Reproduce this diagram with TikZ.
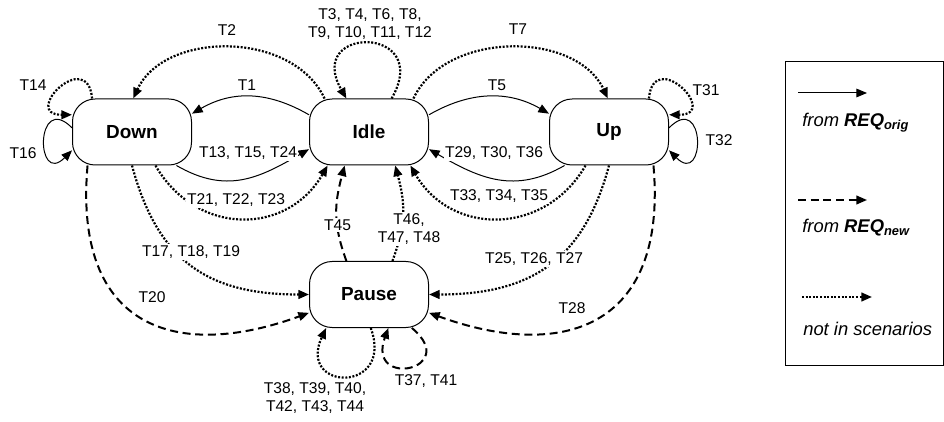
\documentclass[tikz,border=0pt]{standalone}
\usepackage{fontspec}
\setmainfont{Liberation Sans}
\usetikzlibrary{arrows.meta}

\begin{document}
\begin{tikzpicture}[x=0.75pt, y=0.75pt,
  state/.style={draw, line width=0.75pt, rounded corners=17pt,
    minimum width=89.25pt, minimum height=49.5pt, inner sep=0pt,
    font=\fontsize{14.2}{17}\selectfont\bfseries},
  lbl/.style={fill=white, inner sep=0.8pt, align=center,
    font=\fontsize{11.7}{13.8}\selectfont},
  legtext/.style={anchor=base west, inner sep=0pt,
    font=\fontsize{13.8}{16}\selectfont\itshape},
  arrowhd/.style={-{Triangle[length=8pt, width=6.5pt]}},
  reqorig/.style={arrowhd, line width=0.75pt},
  reqnew/.style={arrowhd, line width=1.5pt, dash pattern=on 6pt off 3.5pt},
  noscen/.style={arrowhd, line width=1.65pt, dash pattern=on 1.5pt off 1.2pt}]
  \useasboundingbox (0, 0) rectangle (944, 421);

  \node[state] (down) at (132, 289) {Down};
  \node[state] (idle) at (369, 289) {Idle};
  \node[state] (up) at (609, 289) {Up};
  \node[state] (pause) at (369, 126.5) {Pause};

  % Idle <-> Down
  \draw[reqorig] (idle.164) .. controls +(150:47) and +(30:47) .. (down.17);
  \draw[reqorig] (down.-37) .. controls +(-30:58) and +(210:58) .. (idle.196);
  \draw[noscen] (idle.143) .. controls +(115:75) and +(65:75) .. (down.88);
  \draw[noscen] (down.-55) .. controls +(-60:81.5) and +(-120:81.5) .. (idle.219);

  % Idle <-> Up
  \draw[reqorig] (idle.16) .. controls +(30:47) and +(150:47) .. (up.163);
  \draw[reqorig] (up.-143) .. controls +(-150:58) and +(-30:58) .. (idle.-16);
  \draw[noscen] (idle.37) .. controls +(65:75) and +(115:75) .. (up.92);
  \draw[noscen] (up.-125) .. controls +(-120:81.5) and +(-60:81.5) .. (idle.-39);

  % self loops
  \draw[noscen] (idle.56) .. controls +(60:85) and +(120:85) .. (idle.124);
  \draw[noscen] (down.140) .. controls +(95:52) and +(180:52) .. (down.164);
  \draw[reqorig] (down.176) .. controls +(135:52) and +(225:52) .. (down.197);
  \draw[noscen] (up.40) .. controls +(85:52) and +(0:52) .. (up.16);
  \draw[reqorig] (up.4) .. controls +(45:52) and +(-45:52) .. (up.-17);
  \draw[noscen] (pause.-87) .. controls +(-70:70) and +(-115:70) .. (pause.218);
  \draw[reqnew] (pause.-38) .. controls +(-40:65) and +(-110:65) .. (pause.-60);

  % into Pause
  \draw[noscen] (down.south) .. controls +(-75:100) and +(180:100) .. (pause.west);
  \draw[reqnew] (down.217) .. controls +(-95:165) and +(200:140) .. (pause.197);
  \draw[noscen] (up.south) .. controls +(-105:100) and +(0:100) .. (pause.east);
  \draw[reqnew] (up.-37) .. controls +(-85:165) and +(-20:140) .. (pause.-17);

  % Pause -> Idle
  \draw[reqnew] (pause.124) .. controls +(110:40) and +(-105:40) .. (idle.-126);
  \draw[noscen] (pause.55) .. controls +(70:40) and +(-75:40) .. (idle.-52);

  % transition labels
  \node[lbl] (t1) at (247, 336) {T1};
  \node[lbl] (t2) at (227, 391) {T2};
  \node[lbl] (t3) at (370, 397) {T3, T4, T6, T8,\\T9, T10, T11, T12};
  \node[lbl] (t5) at (497, 336) {T5};
  \node[lbl] (t7) at (518, 392) {T7};
  \node[lbl] (t13) at (248, 268) {T13, T15, T24};
  \node[lbl] (t29) at (494, 268) {T29, T30, T36};
  \node[lbl] (t14) at (33, 336) {T14};
  \node[lbl] (t16) at (23, 268) {T16};
  \node[lbl] (t31) at (706, 331) {T31};
  \node[lbl] (t32) at (719, 281) {T32};
  \node[lbl] (t21) at (236, 221) {T21, T22, T23};
  \node[lbl] (t33) at (499, 225) {T33, T34, T35};
  \node[lbl] (t45) at (337.5, 196) {T45};
  \node[lbl] (t46) at (409, 192) {T46,\\T47, T48};
  \node[lbl] (t17) at (191, 169) {T17, T18, T19};
  \node[lbl] (t25) at (534, 162) {T25, T26, T27};
  \node[lbl] (t20) at (152, 124) {T20};
  \node[lbl] (t28) at (572, 113) {T28};
  \node[lbl] (t38) at (315, 23) {T38, T39, T40,\\T42, T43, T44};
  \node[lbl] (t37) at (426, 40) {T37, T41};

  % legend
  \draw[line width=0.75pt] (785, 56) rectangle (943, 359);
  \coordinate (leg1a) at (798, 328);
  \coordinate (leg1b) at (867, 328);
  \coordinate (leg2a) at (798, 221);
  \coordinate (leg2b) at (867, 221);
  \coordinate (leg3a) at (802, 124);
  \coordinate (leg3b) at (872, 124);
  \draw[reqorig] (leg1a) -- (leg1b);
  \draw[reqnew] (leg2a) -- (leg2b);
  \draw[noscen] (leg3a) -- (leg3b);
  \node[legtext] (leg1) at (802, 294) {from \textbf{REQ\textsubscript{orig}}};
  \node[legtext] (leg2) at (802, 188) {from \textbf{REQ\textsubscript{new}}};
  \node[legtext] (leg3) at (803, 86) {not in scenarios};
\end{tikzpicture}
\end{document}
